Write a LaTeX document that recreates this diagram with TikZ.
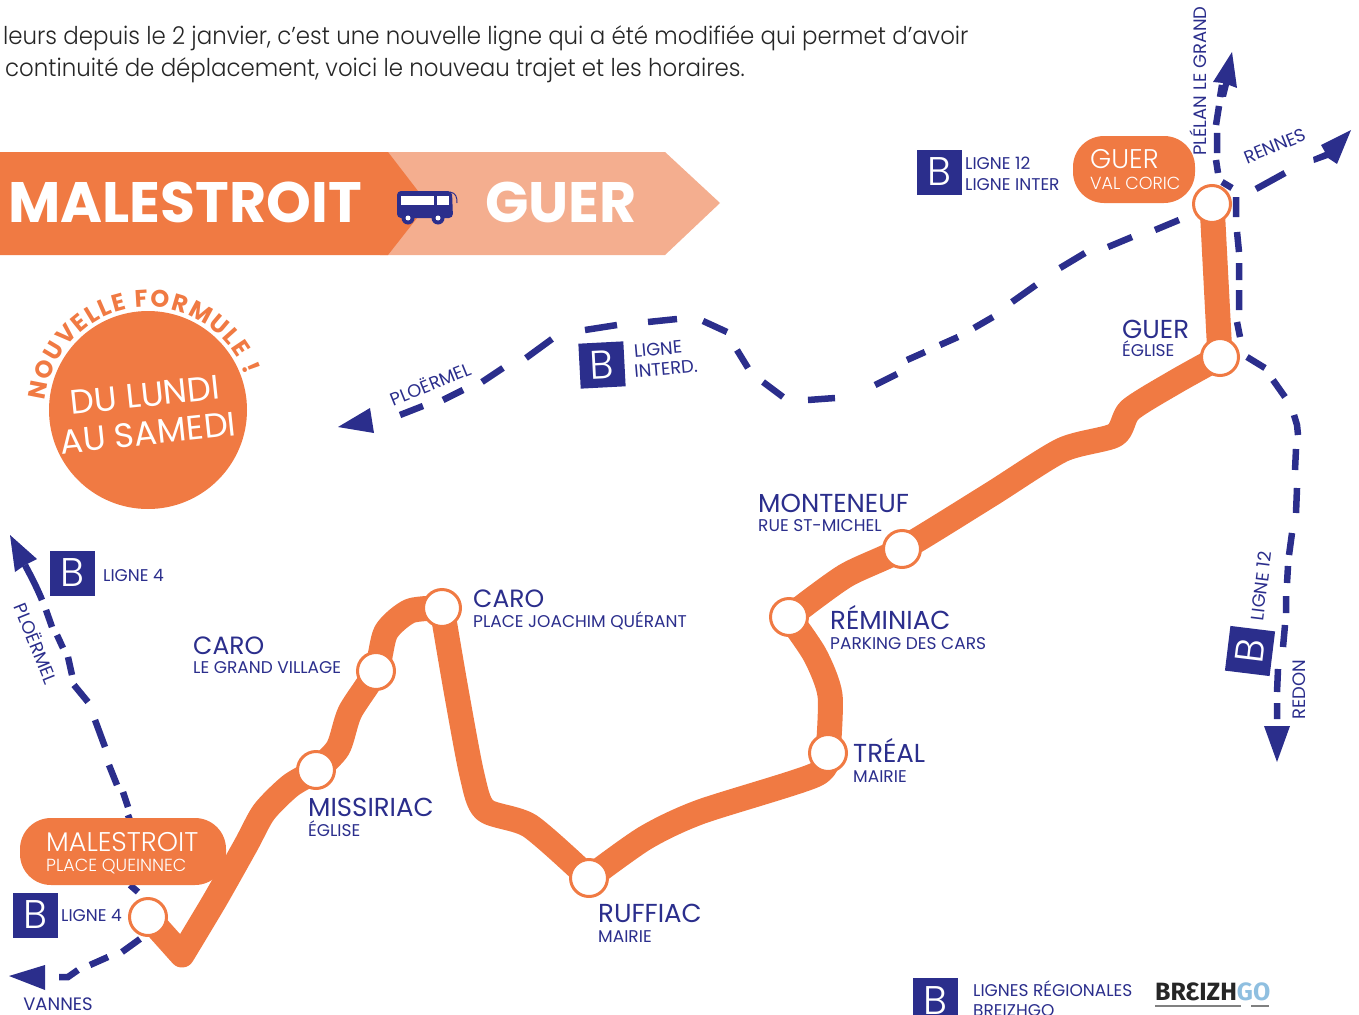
\documentclass[tikz,border=0pt]{standalone}
\usepackage{fontspec}
\setmainfont{Poppins Light}[BoldFont=Poppins Bold]
\newfontfamily\regfont{Poppins}
\newfontfamily\logofont{Fira Sans}[UprightFont=* Bold]
\usetikzlibrary{decorations.text}
\definecolor{orangeA}{HTML}{F07A43}
\definecolor{orangeB}{HTML}{F4AE8F}
\definecolor{navy}{HTML}{2B2E8C}
\definecolor{txtgrey}{HTML}{262626}
\definecolor{skyb}{HTML}{8FBFE0}
\pgfdeclarelayer{bg}
\pgfsetlayers{bg,main}
\tikzset{
  stop/.style={circle,draw=orangeA,fill=white,line width=3pt,minimum size=37pt,inner sep=0pt},
  route/.style={draw=orangeA,line width=25pt,line join=round,line cap=round},
  dashline/.style={draw=navy,line width=6.5pt,line cap=butt},
  head/.style={fill=navy,draw=none},
  bbox/.style={fill=navy,text=white,minimum size=45pt,inner sep=0pt,font=\fontsize{40}{40}\selectfont},
  pill/.style={fill=orangeA,rounded corners=31pt,draw=none},
  big/.style={anchor=base west,inner sep=0pt,text=navy,font=\regfont\fontsize{26}{26}\selectfont},
  small/.style={anchor=base west,inner sep=0pt,text=navy,font=\regfont\fontsize{17}{17}\selectfont},
  pilltxtA/.style={anchor=base west,inner sep=0pt,text=white,font=\fontsize{27}{27}\selectfont},
  pilltxtB/.style={anchor=base west,inner sep=0pt,text=white,font=\fontsize{17.5}{17.5}\selectfont},
  tilted/.style={inner sep=0pt,text=navy,font=\regfont\fontsize{18}{18}\selectfont},
  intro/.style={anchor=base west,inner sep=0pt,text=txtgrey,font=\fontsize{24.5}{24.5}\selectfont},
  title/.style={anchor=base west,inner sep=0pt,text=white,font=\fontsize{57}{57}\selectfont\bfseries},
}
\begin{document}
\begin{tikzpicture}[x=1pt,y=-1pt]
\useasboundingbox (0,0) rectangle (1359,1014);
% intro
\node[intro] (t1) at (3,45) {\scalebox{.935}[1]{leurs depuis le 2 janvier, c’est une nouvelle ligne qui a été modifiée qui permet d’avoir}};
\node[intro] (t2) at (5,77) {\scalebox{.935}[1]{continuité de déplacement, voici le nouveau trajet et les horaires.}};
% banner
\fill[orangeB] (380,152) -- (665,152) -- (720,203) -- (665,255) -- (380,255) -- cycle;
\fill[orangeA] (0,152) -- (388,152) -- (428,204) -- (388,255) -- (0,255) -- cycle;
\node[title] (bmal) at (8,222) {MALESTROIT};
\node[title] (bgue) at (485,222) {GUER};
% bus
\fill[navy,rounded corners=4pt] (397,191) -- (452,191) -- (453,218) -- (397,218) -- cycle;
\draw[navy,line width=1pt] (450,192) .. controls (456,193) and (457,197) .. (457,203);
\fill[white] (401,196) rectangle (434,205);
\fill[white] (437,196) rectangle (449,205);
\fill[navy] (408,218) circle (6.5pt) (438,218) circle (6.5pt);
\fill[white] (408,218) circle (2.5pt) (438,218) circle (2.5pt);
% round badge
\node[circle,fill=orangeA,minimum size=198pt,inner sep=0pt] (badge) at (148,410) {};
\node[inner sep=0pt,text=white,rotate=6,font=\regfont\fontsize{34}{34}\selectfont] (d1) at (145,395) {DU LUNDI};
\node[inner sep=0pt,text=white,rotate=6,font=\regfont\fontsize{34}{34}\selectfont] (d2) at (148,433) {AU SAMEDI};
\path[decorate,decoration={text along path,text align={fit to path},text color=orangeA,
  text={|\fontsize{24}{24}\selectfont\bfseries|NOUVELLE FORMULE !}}]
  plot[domain=175:20,samples=40] ({148+103*cos(\x)},{410-103*sin(\x)});
% stops
\node[stop] (mal) at (148,917) {};
\node[stop] (mis) at (316,770) {};
\node[stop] (cgv) at (376,671) {};
\node[stop] (cjq) at (442,608) {};
\node[stop] (ruf) at (589,878) {};
\node[stop] (tre) at (828,753) {};
\node[stop] (rem) at (789,617) {};
\node[stop] (mon) at (902,549) {};
\node[stop] (geg) at (1220,357) {};
\node[stop] (gvc) at (1212,204) {};
\coordinate (corner) at (182,955);
\begin{pgfonlayer}{bg}
\draw[route] (mal.center) -- (corner) -- plot[smooth,tension=.45] coordinates {(corner) (215,900) (246,845) (264,812) (290,786) (mis.center) (338,748) (350,712) (cgv.center) (386,632) (410,611) (cjq.center)};
\draw[route] (cjq.center) -- plot[smooth,tension=.45] coordinates {(cjq.center) (456,690) (472,775) (485,810) (530,826) (ruf.center)};
\draw[route] (ruf.center) -- plot[smooth,tension=.45] coordinates {(ruf.center) (645,838) (700,812) (815,775) (tre.center)};
\draw[route] (tre.center) -- plot[smooth,tension=.45] coordinates {(tre.center) (830,695) (815,655) (rem.center)};
\draw[route] (rem.center) -- plot[smooth,tension=.45] coordinates {(rem.center) (845,576) (mon.center) (990,495) (1062,450) (1115,435) (1130,410) (1175,382) (geg.center)};
\draw[route] (geg.center) -- (gvc.center);
% dashed lines
\draw[dashline] (400,415)--(423,406) (443,400)--(463,390) (482,382)--(503,368) (526,358)--(552,339) (585,330)--(617,325) (648,322)--(677,319) (703,321)--(727,332) (737,350)--(748,368) (763,382)--(783,397) (808,400)--(835,398) (875,385)--(897,374) (907,360)--(925,352) (940,345)--(958,337) (974,328)--(993,317) (1012,302)--(1036,285) (1060,268)--(1085,253) (1108,247)--(1132,237) (1155,230)--(1179,220) (1256,189)--(1285,173);
\draw[dashline] (1222,85)--(1220,97) (1219,106)--(1216,125) (1217,133)--(1217,153) (1216,160)--(1218,173) (1222,182)--(1232,188) (1236,197)--(1236,217) (1237,232)--(1239,252) (1239,263)--(1239,280) (1239,290)--(1239,310) (1237,322)--(1240,337) (1247,357)--(1265,368) (1273,380)--(1285,397) (1294,415)--(1297,425)--(1298,435) (1296,449)--(1295,470) (1297,488)--(1296,513) (1292,533)--(1289,555) (1288,566)--(1287,583) (1286,596)--(1286,613) (1285,625)--(1283,647) (1278,669)--(1277,692) (1277,703)--(1277,719);
\draw[dashline] (46,610)--(52,627) (57,635)--(63,648) (68,657)--(72,675) (74,685)--(88,702) (95,720)--(105,747) (109,765)--(117,785) (123,792)--(128,807) (128,815)--(132,825) (130,885)--(138,892) (140,939)--(122,952) (108,957)--(90,965) (78,970)--(68,977)--(59,977);
\draw[navy,line width=6.5pt] (25,565) .. controls (32,578) and (38,590) .. (42,600);
\end{pgfonlayer}
% arrow heads
\fill[head] (338,427) -- (370,408) -- (374,433) -- cycle;
\fill[head] (1351,130) -- (1321,145) -- (1325,152) -- (1313,157) -- (1314,163) -- (1328,158) -- (1337,164) -- cycle;
\fill[head] (1232,52) -- (1213,82) -- (1223,83) -- (1220,97) -- (1226,97) -- (1229,85) -- (1237,88) -- cycle;
\fill[head] (1264,726) -- (1290,726) -- (1277,762) -- cycle;
\fill[head] (10,535) -- (15,572) -- (25,565) -- (37,559) -- cycle;
\fill[head] (45,965) -- (9,976) -- (45,990) -- cycle;
% pills
\node[pill,minimum width=206pt,minimum height=67pt,inner sep=0pt] (pmal) at (123,851.5) {};
\node[pilltxtA] at (46,851) {MALESTROIT};
\node[pilltxtB] at (46,871) {PLACE QUEINNEC};
\node[pill,minimum width=122pt,minimum height=67pt,inner sep=0pt] (pgue) at (1134,169.5) {};
\node[pilltxtA] at (1090,168) {GUER};
\node[pilltxtB] at (1090,189) {VAL CORIC};
% B boxes
\node[bbox] (b12) at (939.5,172) {B};
\node[small] at (965,169) {LIGNE 12};
\node[small] at (965,190) {LIGNE INTER};
\node[bbox] (b4a) at (72.5,573) {B};
\node[small] at (103,581) {LIGNE 4};
\node[bbox] (b4b) at (35,915) {B};
\node[small] at (61,921) {LIGNE 4};
\node[bbox,rotate=3] (bint) at (602,365) {B};
\node[tilted,rotate=5] at (658,349) {LIGNE};
\node[tilted,rotate=5] at (666,369) {INTERD.};
\node[bbox,rotate=83] (blig) at (1250,651) {B};
\node[tilted,rotate=83] at (1261,586) {LIGNE 12};
\node[bbox,minimum height=60pt] (breg) at (935,1008) {};
\node[inner sep=0pt,text=white,font=\fontsize{40}{40}\selectfont] at (935,1001) {B};
% direction labels
\node[tilted,rotate=22] at (430,383) {PLOËRMEL};
\node[tilted,rotate=22] at (1275,146) {RENNES};
\node[tilted,rotate=90] at (1198,81) {PLÉLAN LE GRAND};
\node[tilted,rotate=90] at (1299,690) {REDON};
\node[tilted,rotate=-68] at (37,643) {PLOËRMEL};
\node[tilted] at (58,1004) {VANNES};
% stop labels
\node[big] at (308,816) {MISSIRIAC};
\node[small] at (308,836) {ÉGLISE};
\node[big,font=\regfont\fontsize{25}{25}\selectfont] at (193,654) {CARO};
\node[small] at (193,673) {LE GRAND VILLAGE};
\node[big,font=\regfont\fontsize{25}{25}\selectfont] at (473,607) {CARO};
\node[small] at (473,627) {PLACE JOACHIM QUÉRANT};
\node[big] at (598,922) {RUFFIAC};
\node[small] at (598,942) {MAIRIE};
\node[big] at (853,762) {TRÉAL};
\node[small] at (853,782) {MAIRIE};
\node[big] at (830,629) {RÉMINIAC};
\node[small] at (830,649) {PARKING DES CARS};
\node[big] at (758,512) {MONTENEUF};
\node[small] at (758,531) {RUE ST-MICHEL};
\node[big] at (1122,338) {GUER};
\node[small] at (1122,356) {ÉGLISE};
% legend
\node[small] at (973,996) {LIGNES RÉGIONALES};
\node[small] at (973,1016) {BREIZHGO};
\node[anchor=base west,inner sep=0pt,font=\logofont\fontsize{25}{25}\selectfont] (logo) at (1155,1000) {\textcolor{txtgrey}{BRƐIZH}\textcolor{skyb}{GO}};
\draw[gray,line width=1.5pt] (1155,1006) -- (1241,1006) (1251,1006) -- (1269,1006);
\end{tikzpicture}
\end{document}
